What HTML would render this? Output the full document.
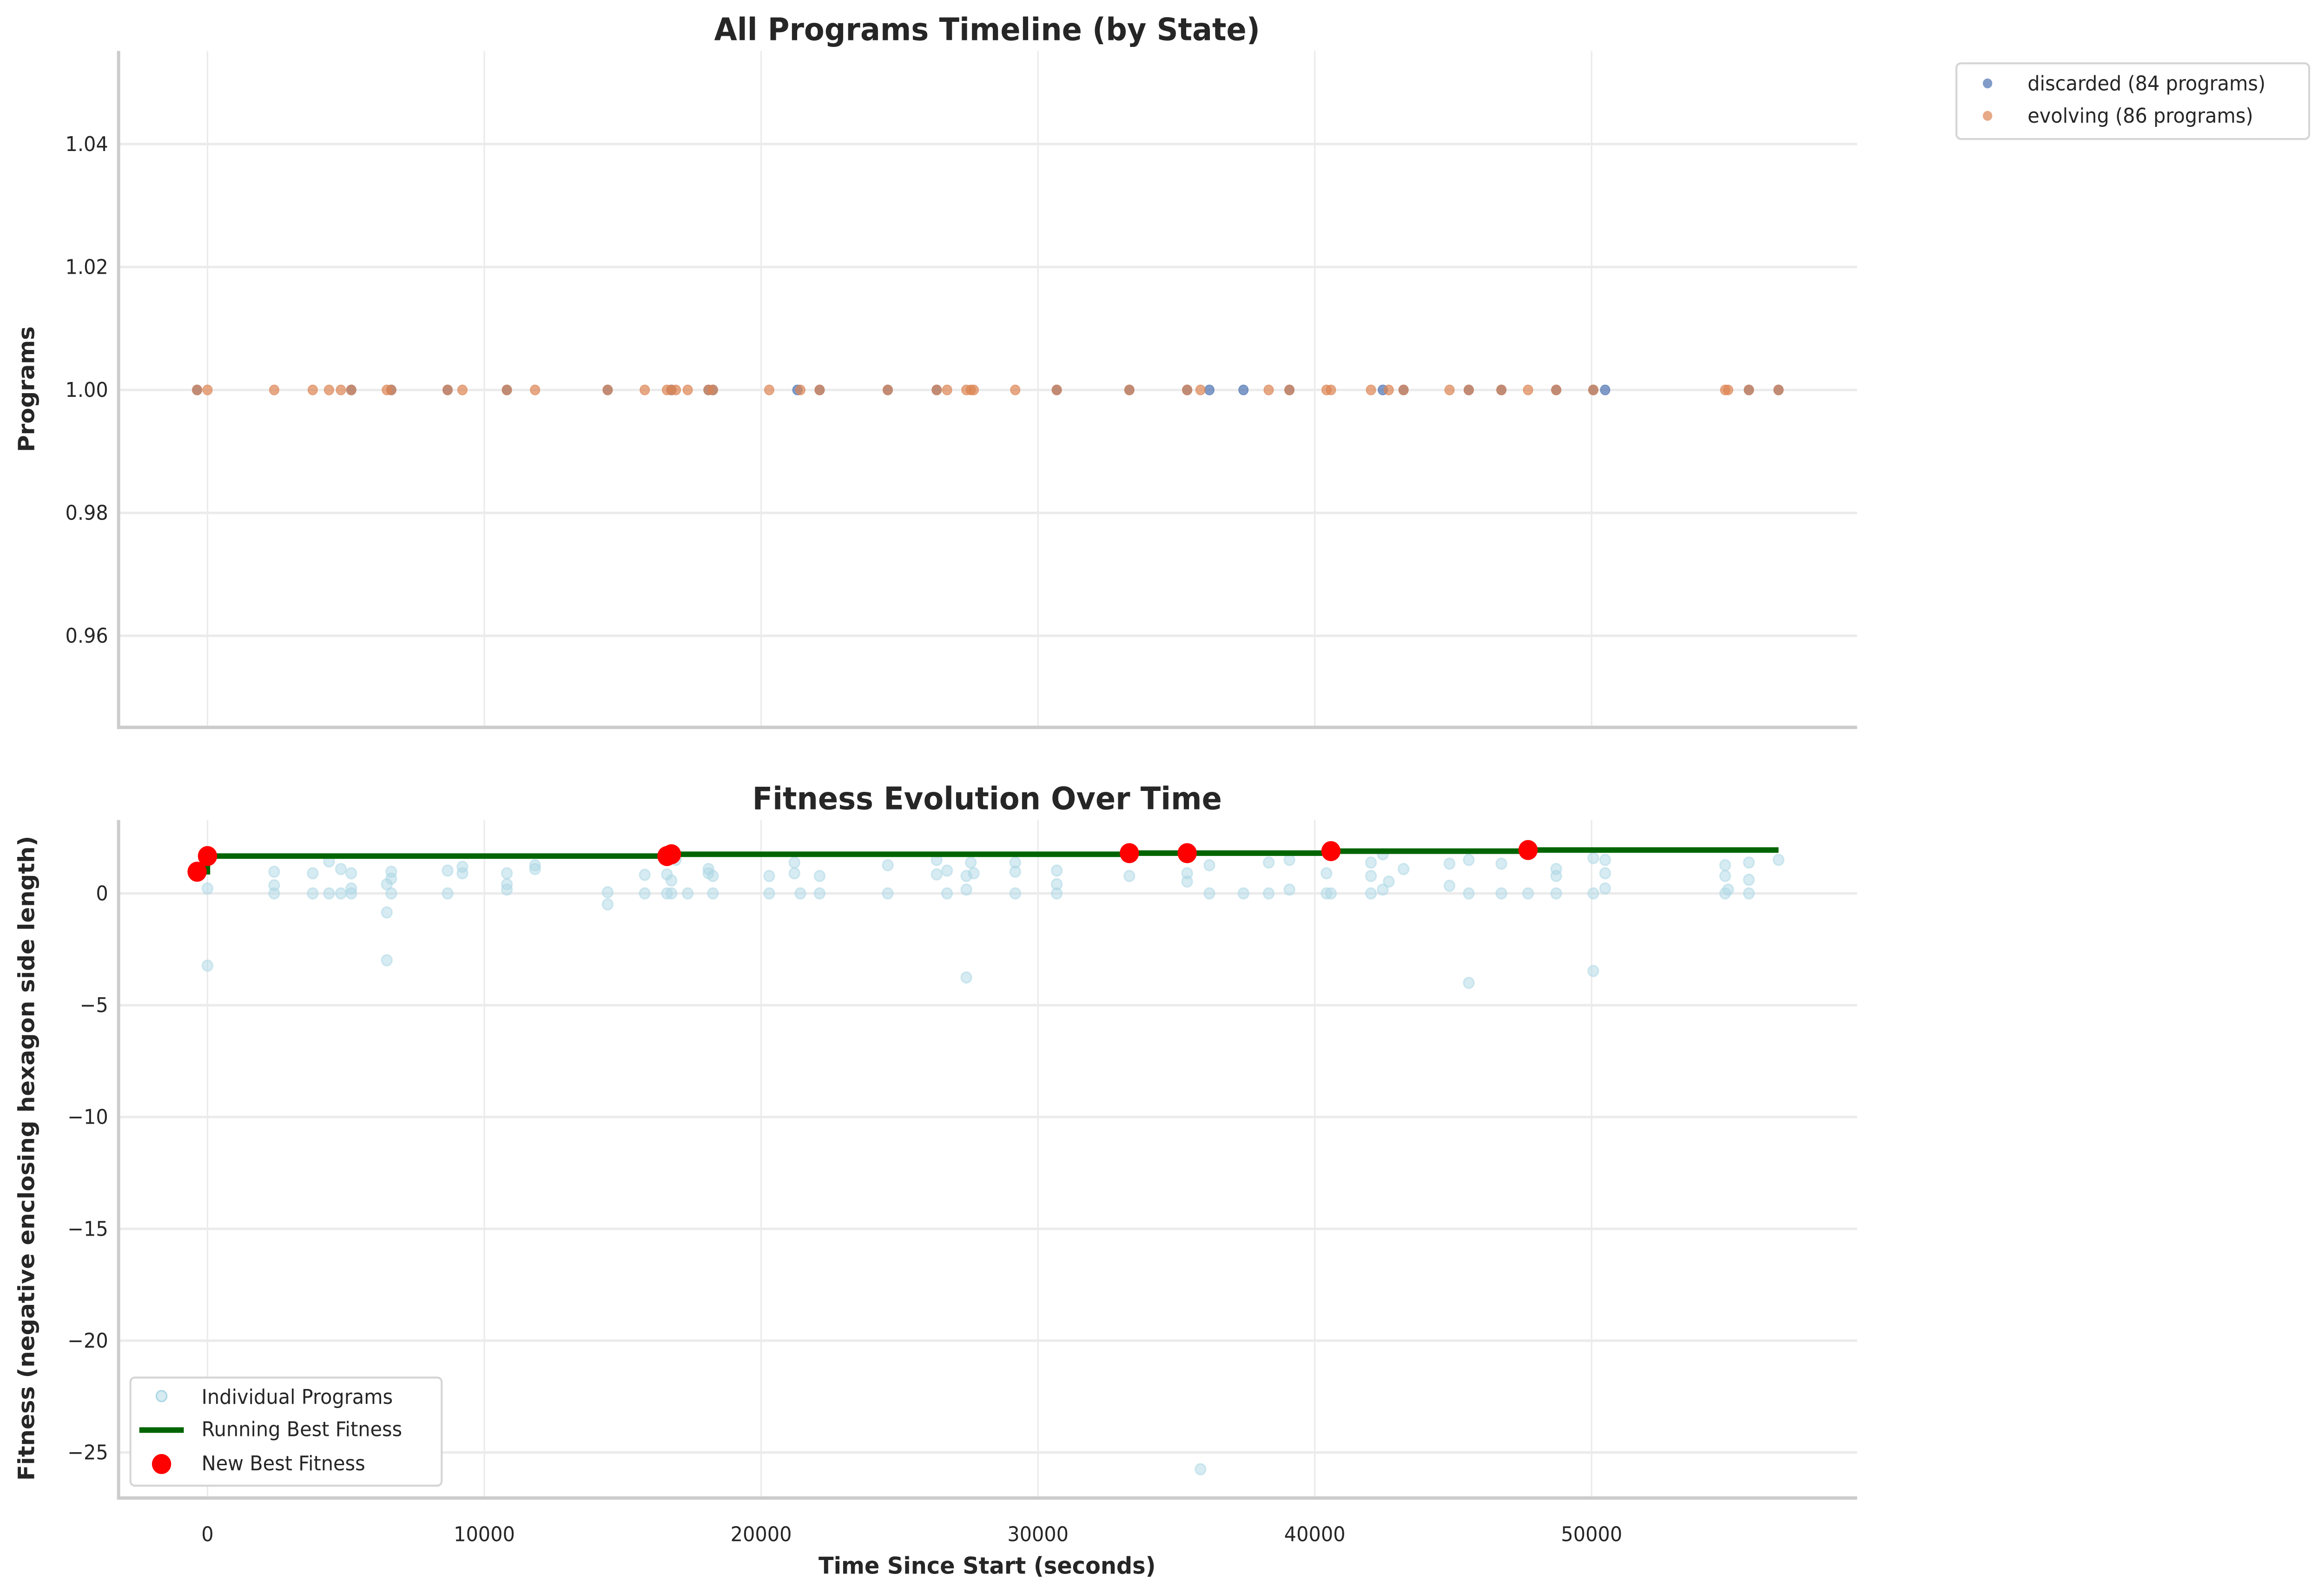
<!DOCTYPE html>
<html><head><meta charset="utf-8"><style>
html,body{margin:0;padding:0;background:#fff;overflow:hidden;width:100%;height:100%}
svg{display:block;position:fixed;left:0;top:0;width:100vw;height:100vh}
text{font-family:"DejaVu Sans","Liberation Sans",sans-serif;fill:#262626}
</style></head><body>
<svg id="chart" xmlns="http://www.w3.org/2000/svg" viewBox="0 0 1568 1031.5" preserveAspectRatio="none"></svg>
<script>
// ---- data ----
const discardedTimes = [-375,5193,6639,8674,10815,14456,16759,18097,18258,21310,22113,24575,26342,30679,33302,35390,36193,37424,39084,42457,43207,45563,46741,48722,50061,50489,55682,56753];
const evolvingTimes = [-375,0,2409,3801,4390,4819,5193,6478,6639,8674,9209,10815,11833,14456,15795,16598,16759,16919,17348,18097,18258,20292,21417,22113,24575,26342,26717,27413,27574,27681,29180,30679,33302,35390,35872,38335,39084,40423,40584,42030,42672,43207,44867,45563,46741,47705,48722,50061,54825,54932,55682,56753];
const progTimes = [0,0,2409,2409,2409,3801,3801,4390,4390,4819,4819,5193,5193,5193,6478,6478,6478,6639,6639,6639,8674,8674,9209,9209,10815,10815,10815,11833,11833,14456,14456,15795,15795,16598,16598,16759,16759,16919,17348,18097,18097,18258,18258,20292,20292,21203,21203,21417,22113,22113,24575,24575,26342,26342,26717,26717,27413,27413,27413,27574,27681,29180,29180,29180,30679,30679,30679,33302,35390,35390,35872,36193,36193,37424,38335,38335,39084,39084,40423,40423,40584,42030,42030,42030,42457,42457,42672,43207,44867,44867,45563,45563,45563,46741,46741,47705,48722,48722,48722,50061,50061,50061,50489,50489,50489,54825,54825,54825,54932,55682,55682,55682,56753];
const progFitness = [0.22,-3.23,0.97,0.36,0,0.9,0,1.43,0,1.09,0,0.9,0.22,0,0.41,-0.85,-2.99,0.97,0.66,0,1.02,0,1.19,0.9,0.9,0.41,0.17,1.26,1.09,0.05,-0.49,0.83,0,0.85,0,0.58,0,1.5,0,1.09,0.9,0.78,0,0.78,0,1.38,0.9,0,0.78,0,1.26,0,1.5,0.85,1.02,0,0.78,0.17,-3.76,1.38,0.9,1.38,0.97,0,1.02,0.41,0,0.78,0.9,0.53,-25.75,1.26,0,0,1.38,0,1.5,0.17,0.9,0,0,1.38,0.78,0,1.75,0.17,0.53,1.09,1.33,0.34,1.5,0,-4.0,1.33,0,0,1.09,0.78,0,1.58,0,-3.47,1.5,0.9,0.22,1.26,0.78,0,0.17,1.38,0.61,0,1.5];
const bestTimes = [-375,0,16598,16759,33302,35390,40584,47705];
const bestFitness = [0.97,1.67,1.67,1.75,1.8,1.8,1.89,1.94];
const lastTime = 56753;
const xTicks = [0,10000,20000,30000,40000,50000];
const yTicksTop = [0.96,0.98,1.00,1.02,1.04];
const yTicksBot = [0,-5,-10,-15,-20,-25];

// ---- scales ----
const X0=80, X1=1253;
const xs = t => 140 + t*0.018677;
const ysTop = v => 252.5 - (v-1)*3980;
const ysBot = v => 578.5 - v*14.48;
const NS="http://www.w3.org/2000/svg";
const svg=document.getElementById('chart');
function mk(tag, attrs, parent){const e=document.createElementNS(NS,tag);for(const k in attrs)e.setAttribute(k,attrs[k]);(parent||svg).appendChild(e);return e;}

function axes(top,bottom,ys,yTicks,fmt,pfx){
  const g=mk('g',{});
  
  
  xTicks.forEach(t=>mk('line',{x1:xs(t),x2:xs(t),y1:top,y2:bottom,stroke:'#ebebeb','stroke-width':1},g));
  yTicks.forEach(v=>{
    mk('line',{x1:X0,x2:X1,y1:ys(v),y2:ys(v),stroke:'#ebebeb','stroke-width':1.6},g);
    const tx=mk('text',{x:73,y:ys(v)+4.5,'text-anchor':'end','font-size':13});
    tx.textContent=fmt(v);
    
    
  });
  const sp=mk('path',{d:`M${X0} ${top}V${bottom}H${X1}`,stroke:'#cccccc','stroke-width':2.2,fill:'none'});
  
  
}
axes(33,471,ysTop,yTicksTop,v=>v.toFixed(2),'top');
axes(531,970,ysBot,yTicksBot,v=>v===0?'0':'\u2212'+Math.abs(v),'bottom');

xTicks.forEach(t=>{
  const tx=mk('text',{x:xs(t),y:998,'text-anchor':'middle','font-size':13});
  tx.textContent=t;
  
  
});

function label(txt,attrs,name){const t=mk('text',attrs);t.textContent=txt;return t;}
label('All Programs Timeline (by State)',{x:666,y:26,'text-anchor':'middle','font-size':20,'font-weight':'bold'},'top-chart-title');
label('Fitness Evolution Over Time',{x:666,y:524,'text-anchor':'middle','font-size':20,'font-weight':'bold'},'bottom-chart-title');
label('Programs',{x:0,y:0,'text-anchor':'middle','font-size':15,'font-weight':'bold',transform:'translate(23,252) rotate(-90)'},'top-y-axis-title');
label('Fitness (negative enclosing hexagon side length)',{x:0,y:0,'text-anchor':'middle','font-size':15,'font-weight':'bold',transform:'translate(23,750) rotate(-90)'},'bottom-y-axis-title');
label('Time Since Start (seconds)',{x:666,y:1019,'text-anchor':'middle','font-size':15,'font-weight':'bold'},'x-axis-title');

discardedTimes.forEach(t=>{
  const c=mk('circle',{cx:xs(t),cy:ysTop(1),r:3.2,fill:'#4c72b0','fill-opacity':0.7,stroke:'#4c72b0','stroke-opacity':0.7,'stroke-width':0.5});
  
  
});
evolvingTimes.forEach(t=>{
  const c=mk('circle',{cx:xs(t),cy:ysTop(1),r:3.2,fill:'#dd8452','fill-opacity':0.7,stroke:'#dd8452','stroke-opacity':0.7,'stroke-width':0.5});
  
  
});

progTimes.forEach((t,i)=>{
  const c=mk('circle',{cx:xs(t),cy:ysBot(progFitness[i]),r:3.5,fill:'#add8e6','fill-opacity':0.5,stroke:'#add8e6','stroke-opacity':0.5,'stroke-width':1});
  
  
});
let d='M'+xs(bestTimes[0])+' '+ysBot(bestFitness[0]);
for(let i=1;i<bestTimes.length;i++){d+=' H'+xs(bestTimes[i])+' V'+ysBot(bestFitness[i]);}
d+=' H'+xs(lastTime);
const bl=mk('path',{d:d,stroke:'#006400','stroke-width':3.6,fill:'none'});


bestTimes.forEach((t,i)=>{
  const c=mk('circle',{cx:xs(t),cy:ysBot(bestFitness[i]),r:6.5,fill:'#ff0000'});
  
  
});

const lg1=mk('g',{});


mk('rect',{x:1320,y:41,width:238,height:49,rx:3,fill:'#fff',stroke:'#d5d5d5','stroke-width':1.3},lg1);
mk('circle',{cx:1341,cy:54,r:3.2,fill:'#4c72b0','fill-opacity':0.7},lg1);
mk('circle',{cx:1341,cy:75,r:3.2,fill:'#dd8452','fill-opacity':0.7},lg1);
label('discarded (84 programs)',{x:1368,y:58.5,'font-size':13},'legend-entry-discarded');
label('evolving (86 programs)',{x:1368,y:79.5,'font-size':13},'legend-entry-evolving');

const lg2=mk('g',{});


mk('rect',{x:88,y:892,width:210,height:70,rx:3,fill:'#fff',stroke:'#d5d5d5','stroke-width':1.3},lg2);
mk('circle',{cx:109,cy:904,r:3.5,fill:'#add8e6','fill-opacity':0.5,stroke:'#add8e6','stroke-width':1},lg2);
mk('line',{x1:94,x2:124,y1:926,y2:926,stroke:'#006400','stroke-width':3.6},lg2);
mk('circle',{cx:109,cy:948,r:6.5,fill:'#ff0000'},lg2);
label('Individual Programs',{x:136,y:909,'font-size':13},'legend-entry-individual');
label('Running Best Fitness',{x:136,y:930,'font-size':13},'legend-entry-running-best');
label('New Best Fitness',{x:136,y:952,'font-size':13},'legend-entry-new-best');
</script>
</body></html>
